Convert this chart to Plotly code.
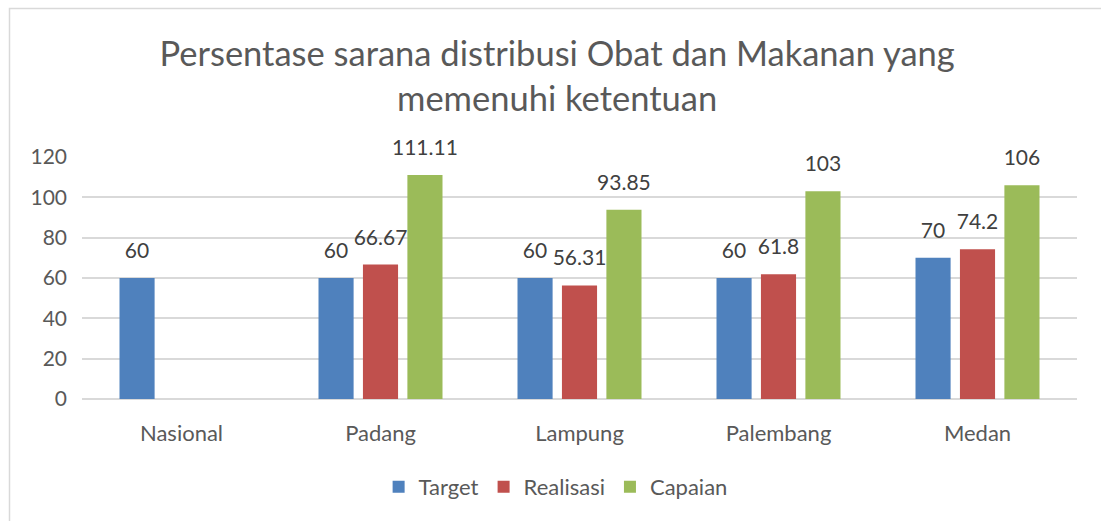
import plotly.graph_objects as go

# Data
categories = ["Nasional", "Padang", "Lampung", "Palembang", "Medan"]
target = [60, 60, 60, 60, 70]
realisasi = [None, 66.67, 56.31, 61.8, 74.2]
capaian = [None, 111.11, 93.85, 103, 106]

series = [
    ("Target", target, "#4F81BD"),
    ("Realisasi", realisasi, "#C0504D"),
    ("Capaian", capaian, "#9BBB59"),
]

FONT = "Lato"
TEXT = "#595959"
LABEL = "#404040"

fig = go.Figure()

for name, vals, color in series:
    fig.add_trace(go.Bar(
        name=name, x=categories, y=vals,
        marker=dict(color=color, line=dict(width=0)),
        offsetgroup=name,
        hoverinfo="skip",
    ))

# value labels, grouped the same way as the bars
for name, vals, color in series:
    fig.add_trace(go.Scatter(
        x=categories, y=vals,
        mode="markers+text",
        text=[("" if v is None else f"{v:g}") for v in vals],
        textposition="top center",
        textfont=dict(family=FONT, size=21, color=LABEL),
        marker=dict(size=22, opacity=0),
        offsetgroup=name,
        showlegend=False,
        hoverinfo="skip",
        cliponaxis=False,
    ))

# pixel geometry of the plot area
W, H = 1101, 521
L, R, T, B = 82, 24, 157, 122
pw, ph = W - L - R, H - T - B

def px_x(p):
    return (p - L) / pw

def px_y(p):
    return (H - B - p) / ph

fig.add_shape(
    type="rect", xref="paper", yref="paper",
    x0=px_x(9.5), x1=px_x(1110), y0=px_y(530), y1=px_y(8.5),
    line=dict(color="#D9D9D9", width=1.5), fillcolor="rgba(0,0,0,0)",
    layer="below",
)

fig.update_layout(
    width=W, height=H,
    margin=dict(l=L, r=R, t=T, b=B, autoexpand=False),
    paper_bgcolor="white", plot_bgcolor="white",
    barmode="group", bargap=0.33, bargroupgap=0.21,
    scattermode="group", scattergap=0.33,
    font=dict(family=FONT, color=TEXT),
    title=dict(
        text="Persentase sarana distribusi Obat dan Makanan yang<br>memenuhi ketentuan",
        x=0.506, xref="container", xanchor="center",
        y=1 - 66 / H, yref="container", yanchor="top",
        font=dict(family=FONT, size=34.5, color=TEXT),
    ),
    xaxis=dict(
        showgrid=False, showline=False, zeroline=False,
        tickfont=dict(family=FONT, size=22, color=TEXT),
        ticklabelstandoff=19,
    ),
    yaxis=dict(
        range=[0, 120], dtick=20, tick0=0,
        showgrid=True, gridcolor="#D9D9D9", gridwidth=1.5,
        zeroline=True, zerolinecolor="#D9D9D9", zerolinewidth=1.5,
        showline=False,
        tickfont=dict(family=FONT, size=21, color=TEXT),
        ticklabelstandoff=14,
    ),
    legend=dict(
        orientation="h", x=0.476, xanchor="center",
        y=px_y(487), yanchor="middle",
        font=dict(family=FONT, size=22, color=TEXT),
        itemwidth=30, tracegroupgap=0,
    ),
    showlegend=True,
)

fig.write_html("out.html")
